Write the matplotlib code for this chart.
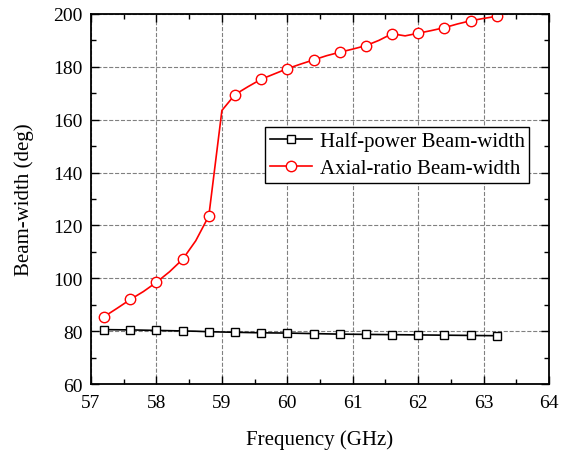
import matplotlib.pyplot as plt
from matplotlib.ticker import MultipleLocator

plt.rcParams['font.family'] = ['Liberation Serif', 'DejaVu Serif']
plt.rcParams['mathtext.fontset'] = 'stix'

# frequency sampled every 0.2 GHz, markers every 0.4 GHz
freq = [57.2, 57.4, 57.6, 57.8, 58.0, 58.2, 58.4, 58.6, 58.8, 59.0, 59.2, 59.4,
        59.6, 59.8, 60.0, 60.2, 60.4, 60.6, 60.8, 61.0, 61.2, 61.4, 61.6, 61.8,
        62.0, 62.2, 62.4, 62.6, 62.8, 63.0, 63.2]
half_power = [80.6, 80.55, 80.5, 80.4, 80.3, 80.2, 80.1, 80.0, 79.8, 79.7, 79.6, 79.5,
              79.4, 79.35, 79.3, 79.2, 79.1, 79.0, 78.9, 78.85, 78.8, 78.75, 78.7, 78.65,
              78.6, 78.55, 78.5, 78.45, 78.4, 78.35, 78.3]
axial_ratio = [85.5, 88.7, 92.0, 95.0, 98.5, 102.5, 107.2, 114.2, 123.6, 163.5, 169.5, 172.5,
               175.3, 177.3, 179.3, 181.0, 182.6, 184.2, 185.5, 186.7, 188.0, 190.0, 192.5, 191.7,
               192.7, 193.7, 194.8, 196.2, 197.4, 198.3, 199.1]

fig = plt.figure(figsize=(5.69, 4.52), dpi=100)
ax = fig.add_axes([0.160, 0.148, 0.805, 0.819])

ax.plot(freq, half_power, color='black', lw=1.2, marker='s', ms=6, mfc='white',
        mec='black', mew=1.0, markevery=2, label='Half-power Beam-width')
ax.plot(freq, axial_ratio, color='red', lw=1.2, marker='o', ms=7.5, mfc='white',
        mec='red', mew=1.0, markevery=2, label='Axial-ratio Beam-width')

ax.set_xlim(57, 64)
ax.set_ylim(60, 200)
ax.xaxis.set_major_locator(MultipleLocator(1))
ax.xaxis.set_minor_locator(MultipleLocator(0.5))
ax.yaxis.set_major_locator(MultipleLocator(20))
ax.yaxis.set_minor_locator(MultipleLocator(10))
ax.tick_params(which='both', direction='in', top=True, right=True, labelsize=14)
ax.tick_params(axis='x', pad=7)
ax.tick_params(axis='y', pad=6)
ax.tick_params(which='major', length=6, width=1)
ax.tick_params(which='minor', length=3.5, width=1)
for s in ax.spines.values():
    s.set_linewidth(1.3)
ax.grid(True, which='major', ls='--', color='gray', lw=0.8)

ax.set_xlabel('Frequency (GHz)', fontsize=15, labelpad=13)
ax.set_ylabel('Beam-width (deg)', fontsize=15, labelpad=14)

leg = ax.legend(loc='upper left', bbox_to_anchor=(0.38, 0.695), fontsize=15,
                frameon=True, fancybox=False, edgecolor='black', framealpha=1,
                handlelength=2.05, handletextpad=0.35, borderpad=0.22,
                labelspacing=0.35, borderaxespad=0)
leg.get_frame().set_linewidth(1.0)

fig.savefig('out.png', dpi=100)
